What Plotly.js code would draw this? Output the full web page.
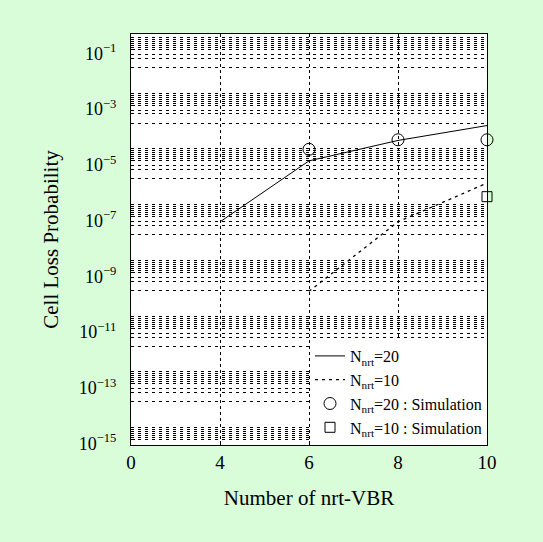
<!DOCTYPE html>
<html>
<head>
<meta charset="utf-8">
<script src="https://cdn.plot.ly/plotly-3.0.1.min.js"></script>
<style>html,body{margin:0;padding:0;background:#d9fdd9;}</style>
</head>
<body>
<div id="chart" style="width:543px;height:542px;"></div>
<script>
// ---- data ----
const xTickVals = [2, 4, 6, 8, 10];
const xTickText = ['0', '4', '6', '8', '10'];
const yTickExp = [-1, -3, -5, -7, -9, -11, -13, -15];
const yTickText = ['10<sup>\u22121</sup>', '10<sup>\u22123</sup>', '10<sup>\u22125</sup>', '10<sup>\u22127</sup>',
                   '10<sup>\u22129</sup>', '10<sup>\u221211</sup>', '10<sup>\u221213</sup>', '10<sup>\u221215</sup>'];

const n20X = [4, 6, 8, 10];
const n20Y = [6.5e-8, 1.0e-5, 5.4e-5, 1.85e-4];
const n10X = [6, 8, 10];
const n10Y = [2.1e-10, 6.5e-8, 1.6e-6];
const sim20X = [6, 8, 10];
const sim20Y = [2.6e-5, 5.7e-5, 5.7e-5];
const sim10X = [10];
const sim10Y = [5.2e-7];

const names = ['N<sub>nrt</sub>=20', 'N<sub>nrt</sub>=10',
               'N<sub>nrt</sub>=20 : Simulation', 'N<sub>nrt</sub>=10 : Simulation'];

// grid line multipliers around each labelled decade (style)
const gridFactors = [1.18, 1.39, 1.64, 1.95, 2.29, 2.69, 0.66, 0.48, 0.226];

const yTickVals = yTickExp.map(e => Math.pow(10, e));
const minorVals = [];
yTickVals.forEach(v => gridFactors.forEach(f => minorVals.push(v * f)));

const font = 'Liberation Serif, Times New Roman, serif';

const traces = [
  {x: n20X, y: n20Y, name: names[0], mode: 'lines', line: {color: 'black', width: 1}},
  {x: n10X, y: n10Y, name: names[1], mode: 'lines', line: {color: 'black', width: 1.3, dash: '3px,4px'}},
  {x: sim20X, y: sim20Y, name: names[2], mode: 'markers', cliponaxis: false,
   marker: {symbol: 'circle-open', size: 12, color: 'black', line: {width: 1}}},
  {x: sim10X, y: sim10Y, name: names[3], mode: 'markers', cliponaxis: false,
   marker: {symbol: 'square-open', size: 10, color: 'black', line: {width: 1}}}
];

const layout = {
  width: 543, height: 542,
  paper_bgcolor: '#d9fdd9', plot_bgcolor: 'white',
  margin: {l: 131, r: 56, t: 34, b: 97},
  font: {family: font, color: 'black', size: 16},
  showlegend: true,
  legend: {x: 1, xanchor: 'right', y: 0.0, yanchor: 'bottom', bgcolor: 'white',
           font: {family: font, size: 16}, itemwidth: 30, tracegroupgap: 0},
  xaxis: {
    range: [2, 10], tickmode: 'array', tickvals: xTickVals, ticktext: xTickText,
    showline: true, mirror: true, linecolor: 'black', linewidth: 1,
    ticks: 'inside', ticklen: 4, tickcolor: 'black',
    showgrid: true, gridcolor: 'black', gridwidth: 1, griddash: '3px,3px',
    zeroline: false, tickfont: {size: 19, family: font},
    title: {text: 'Number of nrt-VBR', font: {size: 21, family: font}, standoff: 18}
  },
  yaxis: {
    type: 'log', range: [-15.19, -0.45], tickmode: 'array', tickvals: yTickVals, ticktext: yTickText,
    showline: true, mirror: true, linecolor: 'black', linewidth: 1,
    ticks: 'inside', ticklen: 4, tickcolor: 'black',
    showgrid: true, gridcolor: 'black', gridwidth: 1, griddash: '3px,4px',
    ticklabelstandoff: 10, ticklabelshift: 4,
    tickfont: {size: 18, family: font},
    minor: {tickmode: 'array', tickvals: minorVals, showgrid: true, gridcolor: 'black',
            gridwidth: 1, griddash: '3px,4px', ticks: ''},
    title: {text: 'Cell Loss Probability', font: {size: 21, family: font}, standoff: 14}
  }
};

Plotly.newPlot('chart', traces, layout, {displayModeBar: false, staticPlot: true});
</script>
</body>
</html>
